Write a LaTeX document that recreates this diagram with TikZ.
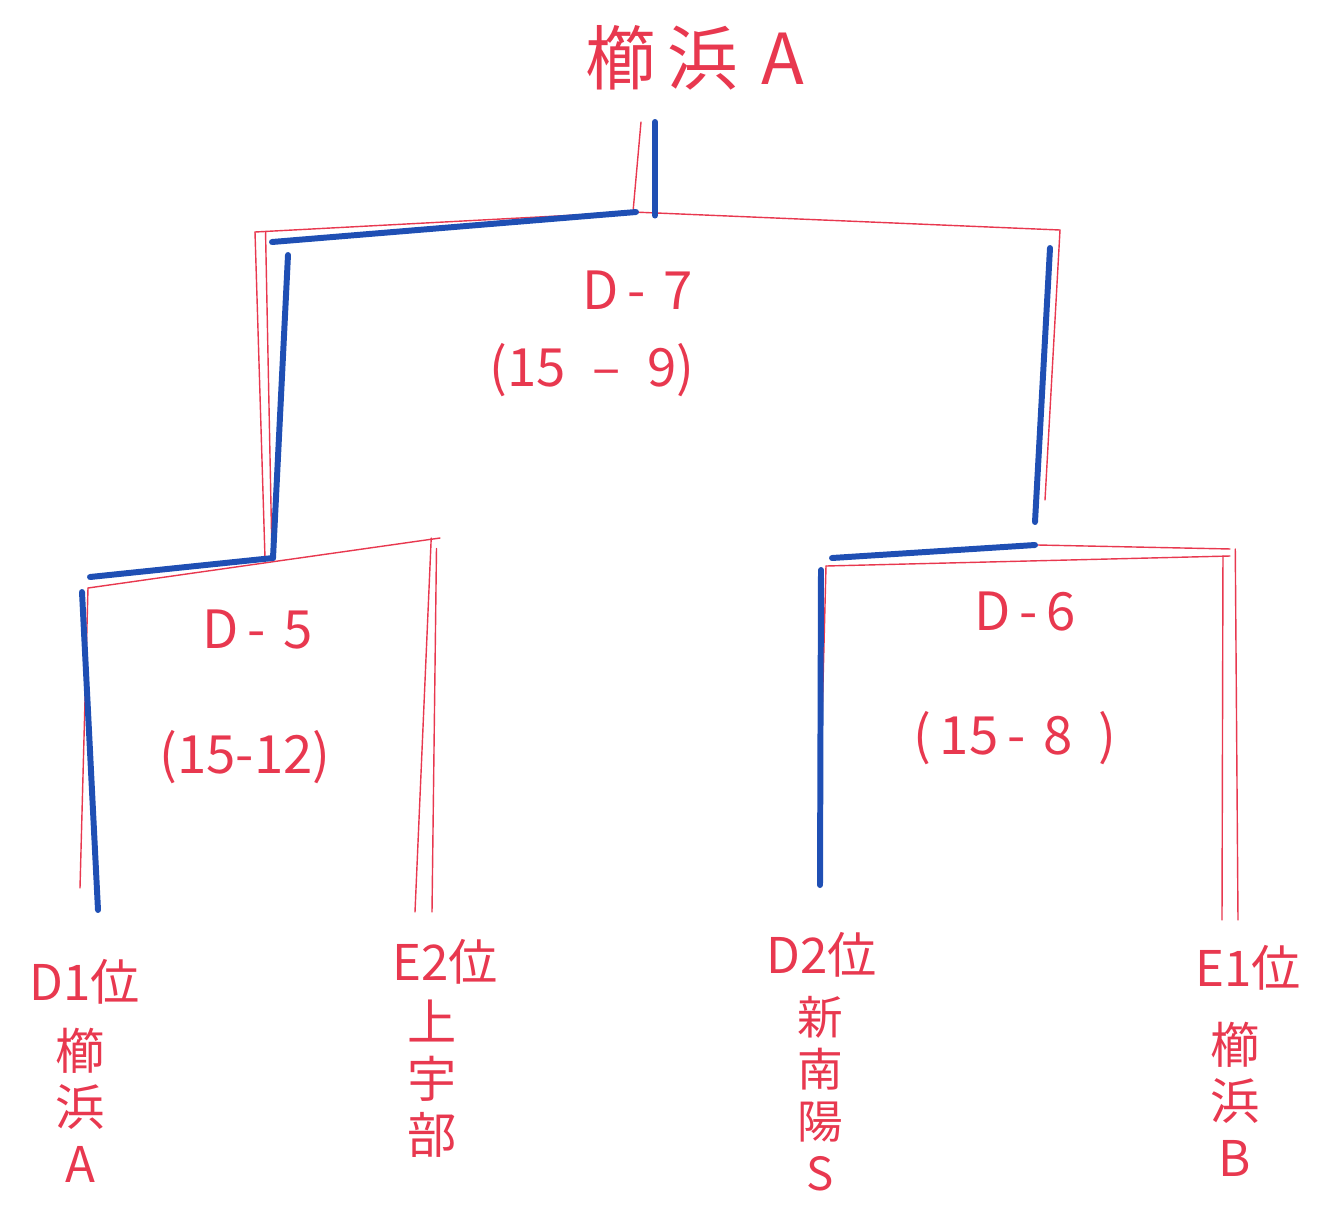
\documentclass[tikz,border=0pt]{standalone}
\usepackage{fontspec}
\setmainfont{Noto Sans CJK JP}

\definecolor{pen}{HTML}{E8384F}
\definecolor{win}{HTML}{1F4FB4}

\begin{document}
\begin{tikzpicture}[
  x=0.02cm, y=-0.02cm,
  redln/.style={draw=pen, line width=0.8pt, line cap=round},
  blueln/.style={draw=win, line width=3.4pt, line cap=round},
  champ/.style={text=pen, font=\fontsize{40}{44}\selectfont},
  score/.style={text=pen, font=\fontsize{30}{34}\selectfont},
  rank/.style={text=pen, font=\fontsize{28}{32}\selectfont},
  team/.style={text=pen, font=\fontsize{28}{32}\selectfont, align=center, anchor=north, inner sep=0pt},
]
  \useasboundingbox (0,0) rectangle (1343,1208);

  % bracket corners
  \coordinate (rtop) at (641,122);
  \coordinate (rfin) at (633,212);
  \coordinate (fL)   at (255,232);
  \coordinate (fR)   at (1060,230);
  \coordinate (s5)   at (265,558);
  \coordinate (r7)   at (1045,500);
  \coordinate (s5L)  at (88,588);
  \coordinate (s5R)  at (440,538);
  \coordinate (s6L)  at (826,566);
  \coordinate (s6M)  at (1038,545);
  \coordinate (s6R)  at (1230,556);
  \coordinate (f1)   at (80,888);
  \coordinate (f2a)  at (415,912);
  \coordinate (f2b)  at (432,912);
  \coordinate (f3)   at (818,880);
  \coordinate (f4a)  at (1222,920);
  \coordinate (f4b)  at (1238,920);

  % red bracket
  \draw[redln] (rtop) -- (rfin);
  \draw[redln] (fL) -- (rfin) -- (fR);
  \draw[redln] (fL) -- (s5);
  \draw[redln] ([xshift=6pt]fL) -- ([xshift=4pt]s5);
  \draw[redln] (fR) -- (r7);
  \draw[redln] (s5L) -- (s5R);
  \draw[redln] (s5L) -- (f1);
  \draw[redln] ([xshift=-5pt]s5R) -- (f2a);
  \draw[redln] ([xshift=-2pt,yshift=-6pt]s5R) -- (f2b);
  \draw[redln] (s6L) -- (s6R);
  \draw[redln] (s6M) -- ([yshift=4pt]s6R);
  \draw[redln] (s6L) -- (f3);
  \draw[redln] ([xshift=-4pt]s6R) -- (f4a);
  \draw[redln] ([xshift=3pt,yshift=4pt]s6R) -- (f4b);

  % winners path
  \coordinate (btop) at (655,122);
  \coordinate (bfin) at (636,212);
  \coordinate (b7)   at (272,242);
  \coordinate (b7d)  at (288,255);
  \coordinate (b5)   at (273,558);
  \coordinate (b5L)  at (90,577);
  \coordinate (b5d)  at (82,592);
  \coordinate (b1)   at (98,910);
  \coordinate (b6t)  at (1050,248);
  \coordinate (b6)   at (1035,522);
  \coordinate (b6L)  at (832,558);
  \coordinate (b6M)  at (1035,545);
  \coordinate (b6d)  at (821,570);
  \coordinate (b3)   at (820,885);
  \draw[blueln] (btop) -- ([yshift=-2pt]bfin -| btop);
  \draw[blueln] (b7) -- (bfin);
  \draw[blueln] (b7d) -- (b5);
  \draw[blueln] (b5L) -- (b5);
  \draw[blueln] (b5d) -- (b1);
  \draw[blueln] (b6t) -- (b6);
  \draw[blueln] (b6L) -- (b6M);
  \draw[blueln] (b6d) -- (b3);

  % winner and scores
  \node[champ] (champion) at (695,58) {櫛\,浜\,\,A};
  \node[score] (d7)  at (638,290) {D\,-\,\,7};
  \node[score] (d7s) at (592,370) {(15\enspace--\enspace9)};
  \node[score] (d5)  at (258,630) {D\,-\,\,5};
  \node[score] (d5s) at (245,757) {(15-12)};
  \node[score] (d6)  at (1025,612) {D\,-\,6};
  \node[score] (d6s) at (1015,738) {(\,15\,-\,\,8\,\,\,)};

  % teams
  \node[rank] (r1) at (85,982) {D1位};
  \node[team] (t1) at (80,1028) {櫛\\浜\\A};
  \node[rank] (r2) at (445,962) {E2位};
  \node[team] (t2) at (432,1000) {上\\宇\\部};
  \node[rank] (r3) at (822,955) {D2位};
  \node[team, font=\fontsize{26}{29.5}\selectfont] (t3) at (820,996) {新\\南\\陽\\S};
  \node[rank] (r4) at (1248,968) {E1位};
  \node[team] (t4) at (1235,1022) {櫛\\浜\\B};
\end{tikzpicture}
\end{document}
